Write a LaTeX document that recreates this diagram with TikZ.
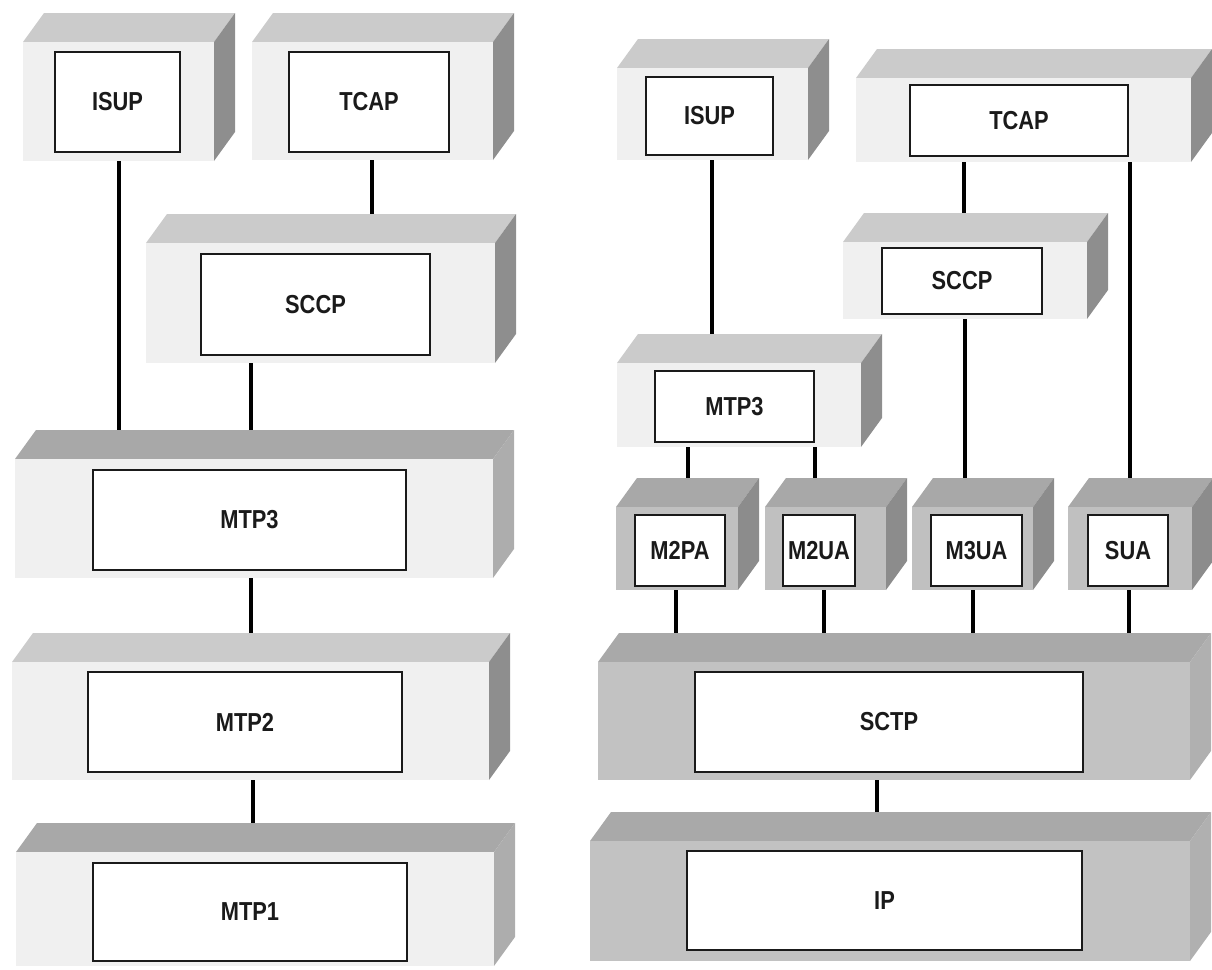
\documentclass[tikz,border=0pt]{standalone}
\usepackage{fontspec}
\setmainfont{Liberation Sans}[FakeStretch=0.84]

% face colours of the three kinds of layer blocks
\definecolor{palefront}{HTML}{F0F0F0}
\definecolor{paletop}{HTML}{CBCBCB}
\definecolor{paleside}{HTML}{8E8E8E}
\definecolor{bandfront}{HTML}{F0F0F0}
\definecolor{bandtop}{HTML}{A8A8A8}
\definecolor{bandside}{HTML}{ADADAD}
\definecolor{darkfront}{HTML}{C0C0C0}
\definecolor{darktop}{HTML}{A8A8A8}
\definecolor{darkside}{HTML}{8C8C8C}
\definecolor{greyfront}{HTML}{C2C2C2}
\definecolor{greytop}{HTML}{A9A9A9}
\definecolor{greyside}{HTML}{B0B0B0}
\definecolor{ink}{HTML}{1A1A1A}

\tikzset{
  face/.style={rectangle, draw=none, inner sep=0pt, outer sep=0pt},
  unitbox/.style={rectangle, draw=ink, line width=1.5pt, fill=white, inner sep=0pt,
                  outer sep=0pt, text=ink, font=\bfseries\fontsize{26}{30}\selectfont},
  link/.style={draw=black, line width=4pt}
}

% 3-D layer block: name, kind, front face x1, y1, x2, y2
\newcommand\layer[6]{%
  \fill[#2top] (#3,#4) -- (#3+21,#4-29) -- (#5+21,#4-29) -- (#5,#4) -- cycle;
  \fill[#2side] (#5,#4) -- (#5+21,#4-29) -- (#5+21,#6-29) -- (#5,#6) -- cycle;
  \node[face, fill=#2front, minimum width={(#5-#3)*1pt}, minimum height={(#6-#4)*1pt}]
    (#1) at ({(#3+#5)/2},{(#4+#6)/2}) {};
  \coordinate (#1-top) at ({(#3+#5)/2+21},{#4-29});
}
% protocol label box: name, x1, y1, x2, y2, text
\newcommand\unit[6]{%
  \node[unitbox, minimum width={(#4-#2)*1pt}, minimum height={(#5-#3)*1pt}]
    (#1) at ({(#2+#4)/2},{(#3+#5)/2}) {#6};
}

\begin{document}
\begin{tikzpicture}[x=1pt, y=-1pt]
\useasboundingbox (0,0) rectangle (1212,969);

% ---------- SS7 stack ----------
\layer{isupL}{pale}{23}{42}{214}{161}
\unit{isupLb}{55}{52}{180}{152}{ISUP}
\layer{tcapL}{pale}{252}{42}{493}{160}
\unit{tcapLb}{289}{52}{449}{152}{TCAP}
\layer{sccpL}{pale}{146}{243}{495}{363}
\unit{sccpLb}{201}{254}{430}{355}{SCCP}
\layer{mtp3L}{band}{15}{459}{493}{578}
\unit{mtp3Lb}{93}{470}{406}{570}{MTP3}
\layer{mtp2L}{pale}{12}{662}{489}{780}
\unit{mtp2Lb}{88}{672}{402}{772}{MTP2}
\layer{mtp1L}{band}{16}{852}{494}{966}
\unit{mtp1Lb}{93}{863}{407}{961}{MTP1}

\draw[link] (119,0 |- isupL.south) -- (119,0 |- mtp3L-top);
\draw[link] (372,0 |- tcapL.south) -- (372,0 |- sccpL-top);
\draw[link] (251,0 |- sccpL.south) -- (251,0 |- mtp3L-top);
\draw[link] (251,0 |- mtp3L.south) -- (251,0 |- mtp2L-top);
\draw[link] (253,0 |- mtp2L.south) -- (253,0 |- mtp1L-top);

% ---------- SIGTRAN stack ----------
\layer{isupR}{pale}{617}{68}{808}{160}
\unit{isupRb}{646}{77}{773}{155}{ISUP}
\layer{tcapR}{pale}{856}{78}{1191}{162}
\unit{tcapRb}{910}{85}{1128}{156}{TCAP}
\layer{sccpR}{pale}{843}{242}{1087}{319}
\unit{sccpRb}{882}{248}{1042}{314}{SCCP}
\layer{mtp3R}{pale}{617}{363}{861}{447}
\unit{mtp3Rb}{655}{371}{814}{442}{MTP3}

\layer{m2pa}{dark}{616}{507}{738}{590}
\unit{m2pab}{635}{515}{725}{586}{M2PA}
\layer{m2ua}{dark}{765}{507}{886}{590}
\unit{m2uab}{783}{515}{855}{586}{M2UA}
\layer{m3ua}{dark}{912}{507}{1033}{590}
\unit{m3uab}{931}{515}{1022}{586}{M3UA}
\layer{sua}{dark}{1068}{507}{1192}{590}
\unit{suab}{1088}{515}{1168}{586}{SUA}

\layer{sctp}{grey}{598}{662}{1190}{780}
\unit{sctpb}{695}{672}{1083}{772}{SCTP}
\layer{ip}{grey}{590}{841}{1190}{961}
\unit{ipb}{687}{851}{1082}{950}{IP}

\draw[link] (712,0 |- isupR.south) -- (712,0 |- mtp3R-top);
\draw[link] (964,0 |- tcapR.south) -- (964,0 |- sccpR-top);
\draw[link] (1130,0 |- tcapR.south) -- (1130,0 |- sua-top);
\draw[link] (965,0 |- sccpR.south) -- (965,0 |- m3ua-top);
\draw[link] (688,0 |- mtp3R.south) -- (688,0 |- m2pa-top);
\draw[link] (815,0 |- mtp3R.south) -- (815,0 |- m2ua-top);
\draw[link] (676,0 |- m2pa.south) -- (676,0 |- sctp-top);
\draw[link] (824,0 |- m2ua.south) -- (824,0 |- sctp-top);
\draw[link] (973,0 |- m3ua.south) -- (973,0 |- sctp-top);
\draw[link] (1129,0 |- sua.south) -- (1129,0 |- sctp-top);
\draw[link] (877,0 |- sctp.south) -- (877,0 |- ip-top);
\end{tikzpicture}
\end{document}
